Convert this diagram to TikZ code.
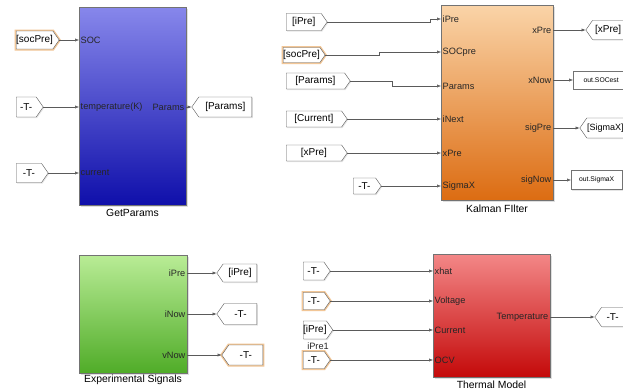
\documentclass[tikz,border=0pt]{standalone}
\usepackage{fontspec}
\setmainfont{Liberation Sans}
\usetikzlibrary{shapes.symbols,arrows.meta,shadows}
\definecolor{gpTop}{RGB}{135,135,235}
\definecolor{gpBot}{RGB}{15,15,170}
\definecolor{kfTop}{RGB}{250,212,168}
\definecolor{kfBot}{RGB}{220,108,18}
\definecolor{esTop}{RGB}{185,236,150}
\definecolor{esBot}{RGB}{80,172,40}
\definecolor{tmTop}{RGB}{243,135,135}
\definecolor{tmBot}{RGB}{196,10,10}
\definecolor{wireC}{RGB}{90,90,90}
\definecolor{glow}{RGB}{242,198,150}
\begin{document}
\begin{tikzpicture}[x=1pt,y=-1pt,
  tagtxt/.style={font=\fontsize{10}{11}\selectfont},
  tagbase/.style={draw=black!65, fill=white, shape=signal, signal pointer angle=110,
    inner sep=0pt, tagtxt, drop shadow={shadow xshift=1pt, shadow yshift=-1pt, opacity=0.2}},
  fromtag/.style={tagbase, signal to=east, signal from=nowhere, anchor=west},
  gototag/.style={tagbase, signal to=west, signal from=nowhere, anchor=east},
  hl/.style={preaction={draw=glow, line width=3pt}},
  outbox/.style={draw=black!55, fill=white, rectangle, inner sep=0pt, anchor=west,
    font=\fontsize{6.8}{7}\selectfont,
    drop shadow={shadow xshift=1pt, shadow yshift=-1pt, opacity=0.2}},
  blk/.style={draw=black!55, rectangle, inner sep=0pt,
    drop shadow={shadow xshift=1.5pt, shadow yshift=-1.5pt, opacity=0.25}},
  port/.style={font=\fontsize{9.2}{10}\selectfont, inner sep=1.5pt, text=black!85},
  blklabel/.style={font=\fontsize{10.4}{11}\selectfont},
  wire/.style={draw=wireC, line width=0.5pt, -{Latex[length=4pt,width=3.2pt]}},
]
\clip (0,0) rectangle (623,391);
\fill[white] (0,0) rectangle (623,391);

% ---------------- GetParams ----------------
\node[blk, top color=gpTop, bottom color=gpBot, minimum width=107pt, minimum height=198pt] (gp) at (132.5,106) {};
\node[blklabel] (gpl) at (132.5,213) {GetParams};
\coordinate (gp-soc) at (79,40);
\coordinate (gp-tmp) at (79,107);
\coordinate (gp-cur) at (79,173);
\coordinate (gp-par) at (186,107);
\node[port, anchor=west] (gp-socl) at (gp-soc) {SOC};
\node[port, anchor=west] (gp-tmpl) at (gp-tmp) {temperature(K)};
\node[port, anchor=west] (gp-curl) at (gp-cur) {current};
\node[port, anchor=east] (gp-parl) at (gp-par) {Params};

\node[fromtag, hl, minimum width=39pt, minimum height=18pt] (f1) at (16,40) {[socPre]};
\node[fromtag, minimum width=27pt, minimum height=20pt] (f2) at (16,107) {-T-};
\node[fromtag, minimum width=32pt, minimum height=19pt] (f3) at (16,173) {-T-};
\node[gototag, minimum width=60pt, minimum height=20pt] (g1) at (252,107) {[Params]};
\draw[wire] (f1.east) -- (gp-soc);
\draw[wire] (f2.east) -- (gp-tmp);
\draw[wire] (f3.east) -- (gp-cur);
\draw[wire] (gp-par) -- (g1.west);

% ---------------- Kalman Filter ----------------
\node[blk, top color=kfTop, bottom color=kfBot, minimum width=112pt, minimum height=195pt] (kf) at (497,102.5) {};
\node[blklabel] (kfl) at (497,209) {Kalman FIlter};
\coordinate (kf-ipre) at (441,19);
\coordinate (kf-soc) at (441,52);
\coordinate (kf-par) at (441,86);
\coordinate (kf-inx) at (441,119);
\coordinate (kf-xpr) at (441,153);
\coordinate (kf-sig) at (441,186);
\coordinate (kf-oxp) at (553,30);
\coordinate (kf-oxn) at (553,80);
\coordinate (kf-osp) at (553,128);
\coordinate (kf-osn) at (553,180);
\node[port, anchor=west] (kf-l1) at (kf-ipre) {iPre};
\node[port, anchor=west] (kf-l2) at (kf-soc) {SOCpre};
\node[port, anchor=west] (kf-l3) at (kf-par) {Params};
\node[port, anchor=west] (kf-l4) at (kf-inx) {iNext};
\node[port, anchor=west] (kf-l5) at (kf-xpr) {xPre};
\node[port, anchor=west] (kf-l6) at (kf-sig) {SigmaX};
\node[port, anchor=east] (kf-r1) at (kf-oxp) {xPre};
\node[port, anchor=east] (kf-r2) at (kf-oxn) {xNow};
\node[port, anchor=east] (kf-r3) at (kf-osp) {sigPre};
\node[port, anchor=east] (kf-r4) at (kf-osn) {sigNow};

\node[fromtag, minimum width=41pt, minimum height=17pt] (k1) at (286,22) {[iPre]};
\node[fromtag, hl, minimum width=40pt, minimum height=15pt] (k2) at (283,55) {[socPre]};
\node[fromtag, minimum width=64pt, minimum height=16pt] (k3) at (286,81) {[Params]};
\node[fromtag, minimum width=61pt, minimum height=16pt] (k4) at (286,119) {[Current]};
\node[fromtag, minimum width=61pt, minimum height=16pt] (k5) at (286,153) {[xPre]};
\node[fromtag, minimum width=28pt, minimum height=16pt] (k6) at (353,186) {-T-};
\draw[wire] (k1.east) -- ++(103,0) |- (kf-ipre);
\draw[wire] (k2.east) -- ++(54,0) |- (kf-soc);
\draw[wire] (k3.east) -- ++(42,0) |- (kf-par);
\draw[wire] (k4.east) -- (kf-inx);
\draw[wire] (k5.east) -- (kf-xpr);
\draw[wire] (k6.east) -- (kf-sig);

\node[gototag, minimum width=38pt, minimum height=19pt] (k7) at (624,30) {[xPre]};
\node[outbox, minimum width=56pt, minimum height=18pt] (k8) at (573,80) {out.SOCest};
\node[gototag, minimum width=44pt, minimum height=20pt, font=\fontsize{9}{10}\selectfont] (k9) at (624,128) {[SigmaX]};
\node[outbox, minimum width=51pt, minimum height=19pt] (k10) at (571,180) {out.SigmaX};
\draw[wire] (kf-oxp) -- (k7.west);
\draw[wire] (kf-oxn) -- (k8.west);
\draw[wire] (kf-osp) -- (k9.west);
\draw[wire] (kf-osn) -- (k10.west);

% ---------------- Experimental Signals ----------------
\node[blk, top color=esTop, bottom color=esBot, minimum width=108pt, minimum height=118pt] (es) at (133,314) {};
\node[blklabel] (esl) at (133,380) {Experimental Signals};
\coordinate (es-ipre) at (187,273);
\coordinate (es-inow) at (187,314);
\coordinate (es-vnow) at (187,355);
\node[port, anchor=east] (es-l1) at (es-ipre) {iPre};
\node[port, anchor=east] (es-l2) at (es-inow) {iNow};
\node[port, anchor=east] (es-l3) at (es-vnow) {vNow};
\node[gototag, minimum width=40pt, minimum height=18pt] (e1) at (257,273) {[iPre]};
\node[gototag, minimum width=40pt, minimum height=21pt] (e2) at (257,314) {-T-};
\node[gototag, hl, minimum width=41pt, minimum height=20pt] (e3) at (263,355) {-T-};
\draw[wire] (es-ipre) -- (e1.west);
\draw[wire] (es-inow) -- (e2.west);
\draw[wire] (es-vnow) -- (e3.west);

% ---------------- Thermal Model ----------------
\node[blk, top color=tmTop, bottom color=tmBot, minimum width=117pt, minimum height=123pt] (tm) at (491.5,315.5) {};
\node[blklabel] (tml) at (491.5,385) {Thermal Model};
\coordinate (tm-xh) at (433,271);
\coordinate (tm-vo) at (433,301);
\coordinate (tm-cu) at (433,330);
\coordinate (tm-oc) at (433,360);
\coordinate (tm-te) at (550,317);
\node[port, anchor=west] (tm-l1) at (tm-xh) {xhat};
\node[port, anchor=west] (tm-l2) at (tm-vo) {Voltage};
\node[port, anchor=west] (tm-l3) at (tm-cu) {Current};
\node[port, anchor=west] (tm-l4) at (tm-oc) {OCV};
\node[port, anchor=east] (tm-r1) at (tm-te) {Temperature};
\node[fromtag, minimum width=27pt, minimum height=18pt] (t1) at (303,271) {-T-};
\node[fromtag, hl, minimum width=27pt, minimum height=17pt] (t2) at (303,301) {-T-};
\node[fromtag, minimum width=29pt, minimum height=18pt] (t3) at (303,330) {[iPre]};
\node[port, inner sep=0pt] (t3l) at (318,346) {iPre1};
\node[fromtag, hl, minimum width=27pt, minimum height=17pt] (t4) at (303,360) {-T-};
\node[gototag, minimum width=29pt, minimum height=19pt] (t5) at (624,317) {-T-};
\draw[wire] (t1.east) -- (tm-xh);
\draw[wire] (t2.east) -- (tm-vo);
\draw[wire] (t3.east) -- (tm-cu);
\draw[wire] (t4.east) -- (tm-oc);
\draw[wire] (tm-te) -- (t5.west);
\end{tikzpicture}
\end{document}
